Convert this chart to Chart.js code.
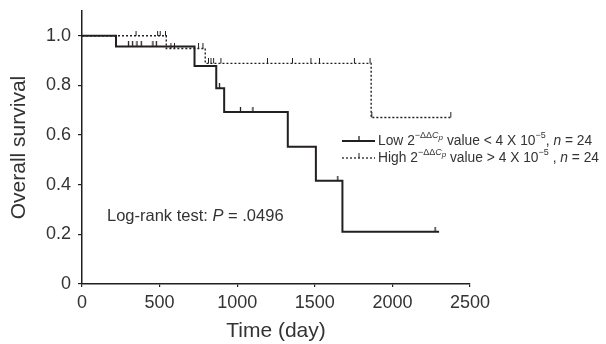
<!DOCTYPE html>
<html>
<head>
<meta charset="utf-8">
<script src="https://cdn.jsdelivr.net/npm/chart.js@4.4.1/dist/chart.umd.min.js"></script>
<style>
  html, body { margin: 0; padding: 0; background: #fff; }
  canvas { display: block; }
</style>
</head>
<body>
<canvas id="km-chart" width="606" height="344"></canvas>
<script>
// Kaplan-Meier steps (time in days, survival after the event)
const lowTimes = [0, 219, 725, 865, 916, 1326, 1507, 1678, 2301];
const lowSurv = [1, 0.957, 0.878, 0.789, 0.693, 0.553, 0.416, 0.211, 0.211];
const lowCensored = [300, 326, 354, 382, 457, 479, 886, 1021, 1101, 1648, 2275];

const highTimes = [0, 543, 794, 1863, 2382];
const highSurv = [1, 0.949, 0.889, 0.671, 0.671];
const highCensored = [348, 487, 504, 538, 573, 596, 751, 779, 815, 831, 848, 895,
  1195, 1356, 1475, 1530, 1755, 1856, 1867, 2376];

const xTicks = [0, 500, 1000, 1500, 2000, 2500];
const yTicks = [0, 0.2, 0.4, 0.6, 0.8, 1.0];

const INK = '#231f20';
const TEXT = '#333333';
const FONT = '"Liberation Sans", Arial, sans-serif';

// survival value of a step curve at time t
function stepAt(times, surv, t) {
  let s = surv[0];
  for (let i = 0; i < times.length; i++) {
    if (times[i] <= t) s = surv[i];
  }
  return s;
}

function toPoints(times, surv) {
  return times.map((t, i) => ({ x: t, y: surv[i] }));
}

function censorPoints(times, surv, cens) {
  return cens.map(t => ({ x: t, y: stepAt(times, surv, t) }));
}

// small vertical tick sitting on top of the curve
function censorMark(h, w) {
  const c = document.createElement('canvas');
  c.width = 3;
  c.height = h * 2;
  const g = c.getContext('2d');
  g.strokeStyle = INK;
  g.lineWidth = w;
  g.beginPath();
  g.moveTo(1.5, 0);
  g.lineTo(1.5, h);
  g.stroke();
  return c;
}

const markSolid = censorMark(5, 1.3);
const markDotted = censorMark(5, 1);

// draws a run of text pieces (for super/subscripts and italics)
function drawRuns(ctx, x, y, runs) {
  runs.forEach(r => {
    ctx.font = (r.italic ? 'italic ' : '') + r.size + 'px ' + FONT;
    ctx.fillText(r.t, x, y - (r.rise || 0));
    x += ctx.measureText(r.t).width;
  });
  return x;
}

const overlay = {
  id: 'overlay',
  afterDraw(chart) {
    const ctx = chart.ctx;
    ctx.save();
    ctx.fillStyle = TEXT;
    ctx.textBaseline = 'alphabetic';
    ctx.textAlign = 'left';

    // legend
    const rows = [
      { dash: [], width: 2, y: 145, sign: '<', gap: ', ' },
      { dash: [2, 2], width: 1.3, y: 162, sign: '>', gap: ' , ' }
    ];
    const names = ['Low', 'High'];
    rows.forEach((row, i) => {
      const ly = row.y - 4;
      ctx.strokeStyle = INK;
      ctx.lineWidth = row.width;
      ctx.setLineDash(row.dash);
      ctx.beginPath();
      ctx.moveTo(342, ly);
      ctx.lineTo(375, ly);
      ctx.stroke();
      ctx.setLineDash([]);
      ctx.lineWidth = i === 0 ? 1.3 : 1;
      ctx.beginPath();
      ctx.moveTo(359, ly);
      ctx.lineTo(359, ly - 5);
      ctx.stroke();

      drawRuns(ctx, 378, row.y, [
        { t: names[i] + ' 2', size: 13.8 },
        { t: '\u2212\u0394\u0394', size: 9, rise: 7 },
        { t: 'C', size: 9, rise: 7, italic: true },
        { t: 'p', size: 8, rise: 5, italic: true },
        { t: ' value ' + row.sign + ' 4 X 10', size: 13.8 },
        { t: '\u22125', size: 9, rise: 7 },
        { t: row.gap, size: 13.8 },
        { t: 'n', size: 13.8, italic: true },
        { t: ' = 24', size: 13.8 }
      ]);
    });

    // log-rank note
    drawRuns(ctx, 107, 221, [
      { t: 'Log-rank test: ', size: 16.5 },
      { t: 'P', size: 16.5, italic: true },
      { t: ' = .0496', size: 16.5 }
    ]);
    ctx.restore();
  }
};

new Chart(document.getElementById('km-chart'), {
  type: 'line',
  data: {
    datasets: [
      {
        label: 'Low',
        data: toPoints(lowTimes, lowSurv),
        stepped: true,
        borderColor: INK,
        borderWidth: 2,
        pointRadius: 0,
        fill: false
      },
      {
        label: 'High',
        data: toPoints(highTimes, highSurv),
        stepped: true,
        borderColor: INK,
        borderWidth: 1.4,
        borderDash: [2, 2],
        pointRadius: 0,
        fill: false
      },
      {
        label: 'Low censored',
        data: censorPoints(lowTimes, lowSurv, lowCensored),
        showLine: false,
        pointStyle: markSolid
      },
      {
        label: 'High censored',
        data: censorPoints(highTimes, highSurv, highCensored),
        showLine: false,
        pointStyle: markDotted
      }
    ]
  },
  options: {
    responsive: false,
    animation: false,
    devicePixelRatio: 1,
    layout: { padding: { top: 11, right: 136, bottom: 0, left: 0 } },
    plugins: {
      legend: { display: false },
      tooltip: { enabled: false }
    },
    scales: {
      x: {
        type: 'linear',
        min: 0,
        max: 2500,
        afterBuildTicks: s => { s.ticks = xTicks.map(v => ({ value: v })); },
        afterFit: s => { s.height = 60; s.paddingLeft = 0; s.paddingRight = 0; },
        ticks: {
          color: TEXT,
          font: { family: FONT, size: 18 },
          padding: 5,
          maxRotation: 0,
          callback: v => String(v)
        },
        grid: { drawOnChartArea: false, tickLength: 3, color: INK, lineWidth: 1.2 },
        border: { color: INK, width: 1.5 },
        title: {
          display: true,
          text: 'Time (day)',
          color: TEXT,
          font: { family: FONT, size: 21 },
          padding: { top: 0, bottom: 0 }
        }
      },
      y: {
        min: 0,
        max: 1.1,
        afterBuildTicks: s => { s.ticks = yTicks.map(v => ({ value: v })); },
        afterFit: s => { s.width = 82; s.paddingTop = 0; s.paddingBottom = 0; },
        ticks: {
          color: TEXT,
          font: { family: FONT, size: 18 },
          padding: 7,
          callback: v => (v === 0 ? '0' : v.toFixed(1))
        },
        grid: { drawOnChartArea: false, tickLength: 4, color: INK, lineWidth: 1.2 },
        border: { color: INK, width: 1.5 },
        title: {
          display: true,
          text: 'Overall survival',
          color: TEXT,
          font: { family: FONT, size: 21 },
          padding: { top: 7, bottom: 0 }
        }
      }
    }
  },
  plugins: [overlay]
});
</script>
</body>
</html>
